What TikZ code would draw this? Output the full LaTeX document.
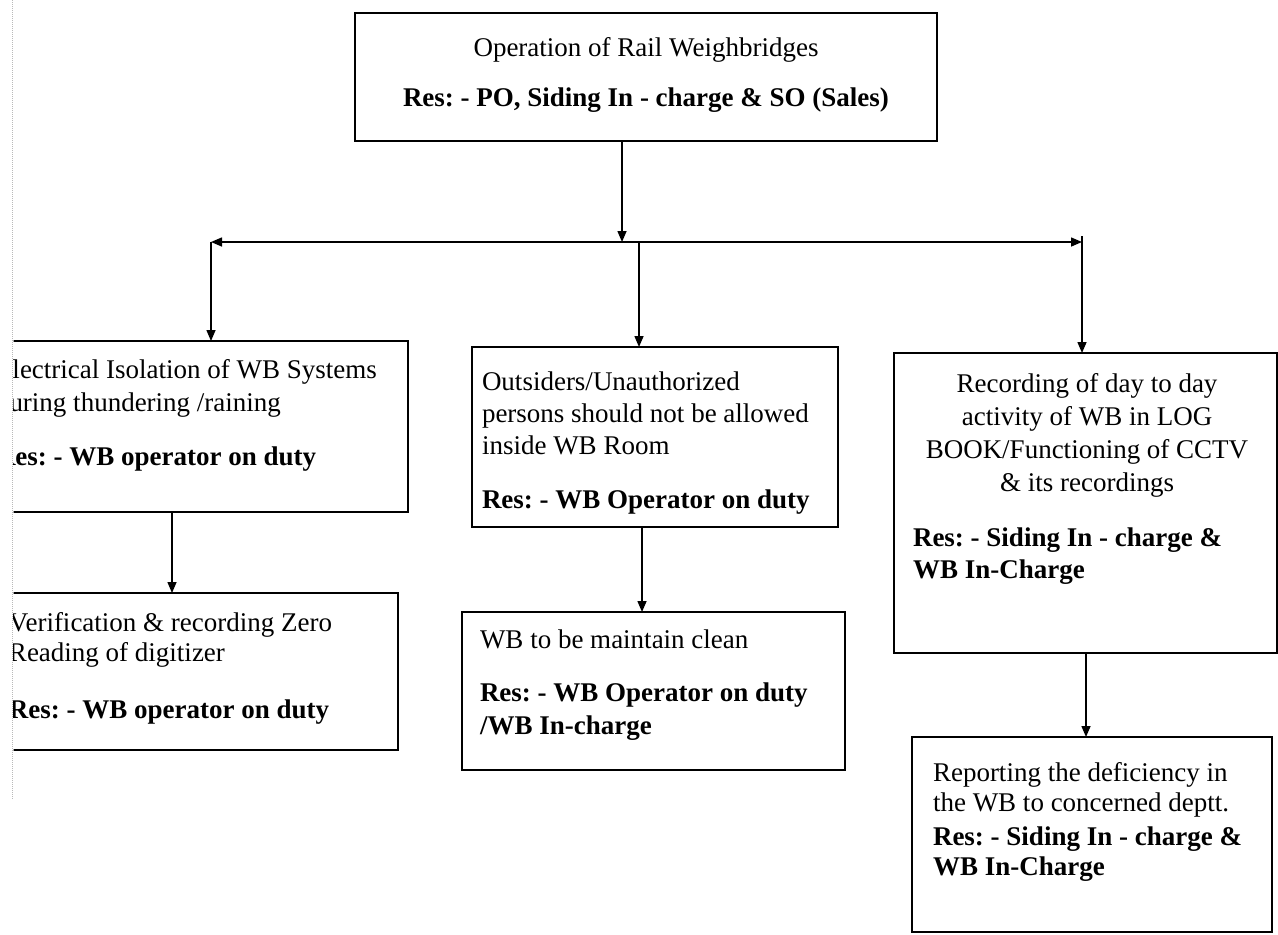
\documentclass[tikz,border=0pt]{standalone}
\usepackage{fontspec}
\setmainfont{Liberation Serif}
\usetikzlibrary{arrows.meta}
\frenchspacing
\tikzset{
  box/.style={draw, line width=1.5pt, inner sep=0pt, outer sep=0pt, anchor=north west},
  txt/.style={inner sep=0pt, outer sep=0pt, font=\fontsize{27}{#1}\selectfont},
  txt/.default=33,
  conn/.style={line width=1.5pt, -{Triangle[length=11pt,width=9pt]}},
  scanline/.style={gray!55, line width=1pt, densely dotted},
}
\begin{document}
\begin{tikzpicture}[x=1pt,y=-1pt]
\useasboundingbox (0,0) rectangle (1278,935);
\fill[white] (0,0) rectangle (1278,935);
\draw[scanline] (12.5,0) -- (12.5,800);
\begin{scope}
\clip (13.5,0) rectangle (1278,935);
% boxes
\node[box, minimum width=582pt, minimum height=128pt] (top) at (355,13) {};
\node[box, minimum width=396pt, minimum height=171pt] (L1) at (12,341) {};
\node[box, minimum width=386pt, minimum height=157pt] (L2) at (12,593) {};
\node[box, minimum width=366pt, minimum height=180pt] (M1) at (472,347) {};
\node[box, minimum width=383pt, minimum height=158pt] (M2) at (462,612) {};
\node[box, minimum width=383pt, minimum height=300pt] (R1) at (894,353) {};
\node[box, minimum width=360pt, minimum height=195pt] (R2) at (912,737) {};
% texts
\node[txt, anchor=north, align=center] (topt) at (646,37.4)
  {Operation of Rail Weighbridges\\[17pt]\textbf{Res: - PO, Siding In - charge \& SO (Sales)}};
\node[txt, anchor=north west, align=left] (L1t) at (-4,359.4)
  {Electrical Isolation of WB Systems\\during thundering /raining\\[21pt]\textbf{Res: - WB operator on duty}};
\node[txt=30, anchor=north west, align=left] (L2t) at (9,612.4)
  {Verification \& recording Zero\\Reading of digitizer\\[27pt]\textbf{Res: - WB operator on duty}};
\node[txt=32, anchor=north west, align=left] (M1t) at (482,371.4)
  {Outsiders/Unauthorized\\persons should not be allowed\\inside WB Room\\[22pt]\textbf{Res: - WB Operator on duty}};
\node[txt, anchor=north west, align=left] (M2t) at (480,629.4)
  {WB to be maintain clean\\[20pt]\textbf{Res: - WB Operator on duty}\\\textbf{/WB In-charge}};
\node[txt, anchor=north, align=center] (R1t) at (1087,373.4)
  {Recording of day to day\\activity of WB in LOG\\BOOK/Functioning of CCTV\\\& its recordings};
\node[txt=32, anchor=north west, align=left] (R1r) at (913,527.4)
  {\textbf{Res: - Siding In - charge \&}\\\textbf{WB In-Charge}};
\node[txt=30, anchor=north west, align=left] (R2t) at (933,762.4)
  {Reporting the deficiency in\\the WB to concerned deptt.\\[4pt]\textbf{Res: - Siding In - charge \&}\\\textbf{WB In-Charge}};
% junctions
\coordinate (jl) at (211,242);
\coordinate (jt) at (622,242);
\coordinate (jm) at (639,242);
\coordinate (jr) at (1082,242);
\coordinate (jrtop) at (1082,236);
% connectors
\draw[conn] (top.south -| jt) -- (jt);
\draw[line width=1.5pt, {Triangle[length=11pt,width=9pt]}-{Triangle[length=11pt,width=9pt]}] (jl) -- (jr);
\draw[conn] (jl) -- (jl |- L1.north);
\draw[conn] (jm) -- (jm |- M1.north);
\draw[conn] (jrtop) -- (jrtop |- R1.north);
\draw[conn] (L1.south -| 172,0) -- (L2.north -| 172,0);
\draw[conn] (M1.south -| 642,0) -- (M2.north -| 642,0);
\draw[conn] (R1.south -| 1086,0) -- (R2.north -| 1086,0);
\end{scope}
\end{tikzpicture}
\end{document}
